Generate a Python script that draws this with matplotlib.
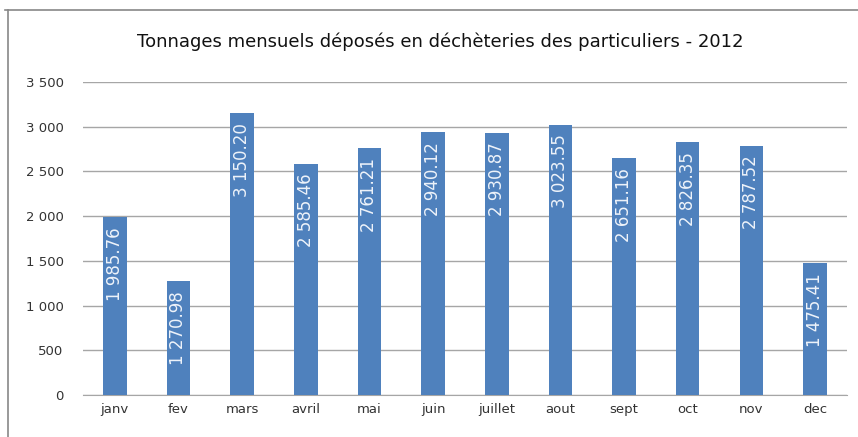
import matplotlib
matplotlib.use('Agg')
import matplotlib.pyplot as plt
from matplotlib.lines import Line2D

# monthly tonnages, 2012
months = ['janv', 'fev', 'mars', 'avril', 'mai', 'juin', 'juillet', 'aout', 'sept', 'oct', 'nov', 'dec']
tonnages = [1985.76, 1270.98, 3150.20, 2585.46, 2761.21, 2940.12, 2930.87, 3023.55, 2651.16, 2826.35, 2787.52, 1475.41]
yticks = [0, 500, 1000, 1500, 2000, 2500, 3000, 3500]

def fr(v, dec=0):
    s = f'{v:,.{dec}f}'
    return s.replace(',', ' ')

fig = plt.figure(figsize=(8.58, 4.37), dpi=100)
ax = fig.add_axes([0.0967, 0.0961, 0.8903, 0.7163])

x = range(len(months))
bars = ax.bar(x, tonnages, width=0.37, color='#4F81BD', zorder=3)

for i, v in enumerate(tonnages):
    ax.text(i, v - 110, fr(v, 2), rotation=90, ha='center', va='top',
            color='#eef3fa', fontsize=12, zorder=4)

ax.set_xlim(-0.5, len(months) - 0.5)
ax.set_ylim(0, 3500)
ax.set_yticks(yticks)
ax.set_yticklabels([fr(t) for t in yticks], fontsize=9.5, color='#333333')
ax.set_xticks(list(x))
ax.set_xticklabels(months, fontsize=9.5, color='#333333')
ax.tick_params(axis='x', length=0, pad=6)
ax.tick_params(axis='y', length=0, pad=14)
ax.yaxis.grid(True, color='#a6a6a6', lw=1)
ax.set_axisbelow(True)
for s in ['left', 'right', 'top']:
    ax.spines[s].set_visible(False)
ax.spines['bottom'].set_color('#a6a6a6')

fig.text(0.513, 0.905, 'Tonnages mensuels déposés en déchèteries des particuliers - 2012',
         ha='center', va='center', fontsize=13, color='#111111')

# chart frame
fig.add_artist(Line2D([0.006, 1.0], [0.977, 0.977], color='#888888', lw=1.2))
fig.add_artist(Line2D([0.009, 0.009], [0.0, 0.977], color='#888888', lw=1.2))

fig.savefig('out.png', dpi=100)
